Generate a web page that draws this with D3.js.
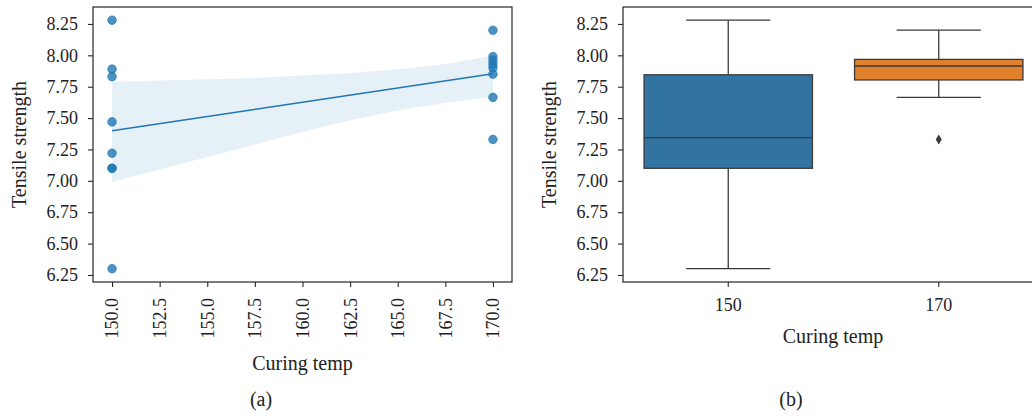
<!DOCTYPE html>
<html>
<head>
<meta charset="utf-8">
<script src="https://cdn.jsdelivr.net/npm/d3@7"></script>
<style>
  body { margin: 0; background: #fff; }
  svg text { font-family: "Liberation Serif", "DejaVu Serif", serif; fill: #222; }
</style>
</head>
<body>
<div class="canvas"></div>
<script>
// data
const temps = [150, 170];
const strength150 = [8.28, 7.89, 7.83, 7.47, 7.22, 7.10, 7.10, 6.30];
const strength170 = [8.20, 7.99, 7.96, 7.93, 7.90, 7.85, 7.665, 7.33];
const yTicks = [6.25, 6.50, 6.75, 7.00, 7.25, 7.50, 7.75, 8.00, 8.25];
const xTicks = [150.0, 152.5, 155.0, 157.5, 160.0, 162.5, 165.0, 167.5, 170.0];
// confidence band of the fit (bootstrap), read at each x tick
const ciUpper = [7.79, 7.80, 7.81, 7.82, 7.84, 7.86, 7.89, 7.93, 8.00];
const ciLower = [6.99, 7.09, 7.19, 7.29, 7.39, 7.48, 7.56, 7.62, 7.67];

const W = 1032, H = 419;
const svg = d3.select('.canvas')
    .append('svg')
    .attr('width', W)
    .attr('height', H);

const plotTop = 7, plotBottom = 282;
const blue = '#1f77b4';
const edge = '#3a3a3a';

const y = d3.scaleLinear()
    .domain([6.194, 8.385])
    .range([plotBottom, plotTop]);

const yFmt = d3.format('.2f');

// ---------- (a) regression plot ----------
const aLeft = 93, aRight = 512;
const x = d3.scaleLinear()
    .domain([149, 171])
    .range([aLeft, aRight]);

const pts = [];
strength150.forEach(v => pts.push({ t: 150, v }));
strength170.forEach(v => pts.push({ t: 170, v }));

// least squares fit
const mx = d3.mean(pts, d => d.t), my = d3.mean(pts, d => d.v);
const slope = d3.sum(pts, d => (d.t - mx) * (d.v - my)) / d3.sum(pts, d => (d.t - mx) ** 2);
const icpt = my - slope * mx;

const band = d3.area()
    .x((d, i) => x(xTicks[i]))
    .y0((d, i) => y(ciLower[i]))
    .y1((d, i) => y(ciUpper[i]))
    .curve(d3.curveMonotoneX);

svg.append('path')
    .datum(xTicks)
    .attr('d', band)
    .attr('fill', blue)
    .attr('fill-opacity', 0.11);

svg.append('line')
    .attr('x1', x(150)).attr('y1', y(icpt + slope * 150))
    .attr('x2', x(170)).attr('y2', y(icpt + slope * 170))
    .attr('stroke', blue)
    .attr('stroke-width', 1.4);

svg.append('g').selectAll('circle')
    .data(pts)
    .enter()
    .append('circle')
    .attr('cx', d => x(d.t))
    .attr('cy', d => y(d.v))
    .attr('r', 4.3)
    .attr('fill', blue)
    .attr('fill-opacity', 0.8)
    .attr('stroke', blue)
    .attr('stroke-opacity', 0.8)
    .attr('stroke-width', 0.8);

svg.append('rect')
    .attr('x', aLeft).attr('y', plotTop)
    .attr('width', aRight - aLeft).attr('height', plotBottom - plotTop)
    .attr('fill', 'none')
    .attr('stroke', '#262626')
    .attr('stroke-width', 1.2);

svg.append('g')
    .attr('transform', `translate(${aLeft}, 0)`)
    .call(d3.axisLeft(y).tickValues(yTicks).tickFormat(yFmt).tickSize(5).tickPadding(10));

const xAxisA = svg.append('g')
    .attr('transform', `translate(0, ${plotBottom})`)
    .call(d3.axisBottom(x).tickValues(xTicks).tickFormat(d3.format('.1f')).tickSize(5));

xAxisA.selectAll('text')
    .attr('transform', 'rotate(-90)')
    .attr('text-anchor', 'end')
    .attr('x', -16)
    .attr('y', 0)
    .attr('dy', '0.33em');

svg.append('text')
    .attr('x', (aLeft + aRight) / 2).attr('y', 370)
    .attr('text-anchor', 'middle')
    .attr('font-size', 20)
    .text('Curing temp');

svg.append('text')
    .attr('transform', `translate(26, ${(plotTop + plotBottom) / 2}) rotate(-90)`)
    .attr('text-anchor', 'middle')
    .attr('font-size', 20)
    .text('Tensile strength');

svg.append('text')
    .attr('x', 261).attr('y', 406)
    .attr('text-anchor', 'middle')
    .attr('font-size', 20)
    .text('(a)');

// ---------- (b) box plot ----------
const bLeft = 623, bRight = 1044;
const xb = d3.scaleBand()
    .domain(temps.map(String))
    .range([bLeft, bRight])
    .padding(0);

const groups = [
    { key: '150', vals: strength150, color: '#3274a1' },
    { key: '170', vals: strength170, color: '#e1812c' }
];

groups.forEach(g => {
    const s = g.vals.slice().sort(d3.ascending);
    const q1 = d3.quantile(s, 0.25), med = d3.quantile(s, 0.5), q3 = d3.quantile(s, 0.75);
    const iqr = q3 - q1;
    const lo = d3.min(s.filter(v => v >= q1 - 1.5 * iqr));
    const hi = d3.max(s.filter(v => v <= q3 + 1.5 * iqr));
    const out = s.filter(v => v < lo || v > hi);
    const cx = xb(g.key) + xb.bandwidth() / 2;
    const bw = xb.bandwidth() * 0.8;
    const gg = svg.append('g');

    gg.append('line').attr('x1', cx).attr('x2', cx).attr('y1', y(q3)).attr('y2', y(hi));
    gg.append('line').attr('x1', cx).attr('x2', cx).attr('y1', y(q1)).attr('y2', y(lo));
    gg.append('line').attr('x1', cx - bw / 4).attr('x2', cx + bw / 4).attr('y1', y(hi)).attr('y2', y(hi));
    gg.append('line').attr('x1', cx - bw / 4).attr('x2', cx + bw / 4).attr('y1', y(lo)).attr('y2', y(lo));
    gg.append('rect')
        .attr('x', cx - bw / 2).attr('y', y(q3))
        .attr('width', bw).attr('height', y(q1) - y(q3))
        .attr('fill', g.color);
    gg.append('line').attr('x1', cx - bw / 2).attr('x2', cx + bw / 2).attr('y1', y(med)).attr('y2', y(med));
    gg.selectAll('line, rect')
        .attr('stroke', edge)
        .attr('stroke-width', 1.3);

    gg.selectAll('path.out')
        .data(out)
        .enter()
        .append('path')
        .attr('class', 'out')
        .attr('d', 'M0,-5 L3,0 L0,5 L-3,0 Z')
        .attr('transform', d => `translate(${cx}, ${y(d)})`)
        .attr('fill', edge);
});

svg.append('rect')
    .attr('x', bLeft).attr('y', plotTop)
    .attr('width', bRight - bLeft).attr('height', plotBottom - plotTop)
    .attr('fill', 'none')
    .attr('stroke', '#262626')
    .attr('stroke-width', 1.2);

svg.append('g')
    .attr('transform', `translate(${bLeft}, 0)`)
    .call(d3.axisLeft(y).tickValues(yTicks).tickFormat(yFmt).tickSize(5).tickPadding(10));

svg.append('g')
    .attr('transform', `translate(0, ${plotBottom})`)
    .call(d3.axisBottom(xb).tickSize(5).tickPadding(11));

svg.append('text')
    .attr('x', 833).attr('y', 343)
    .attr('text-anchor', 'middle')
    .attr('font-size', 20)
    .text('Curing temp');

svg.append('text')
    .attr('transform', `translate(556, ${(plotTop + plotBottom) / 2}) rotate(-90)`)
    .attr('text-anchor', 'middle')
    .attr('font-size', 20)
    .text('Tensile strength');

svg.append('text')
    .attr('x', 791).attr('y', 406)
    .attr('text-anchor', 'middle')
    .attr('font-size', 20)
    .text('(b)');

// shared axis styling
svg.selectAll('.tick text')
    .attr('font-size', 18)
    .attr('fill', '#222');
svg.selectAll('.tick line').attr('stroke', '#262626').attr('stroke-width', 1.1);
svg.selectAll('.domain').remove();
</script>
</body>
</html>
